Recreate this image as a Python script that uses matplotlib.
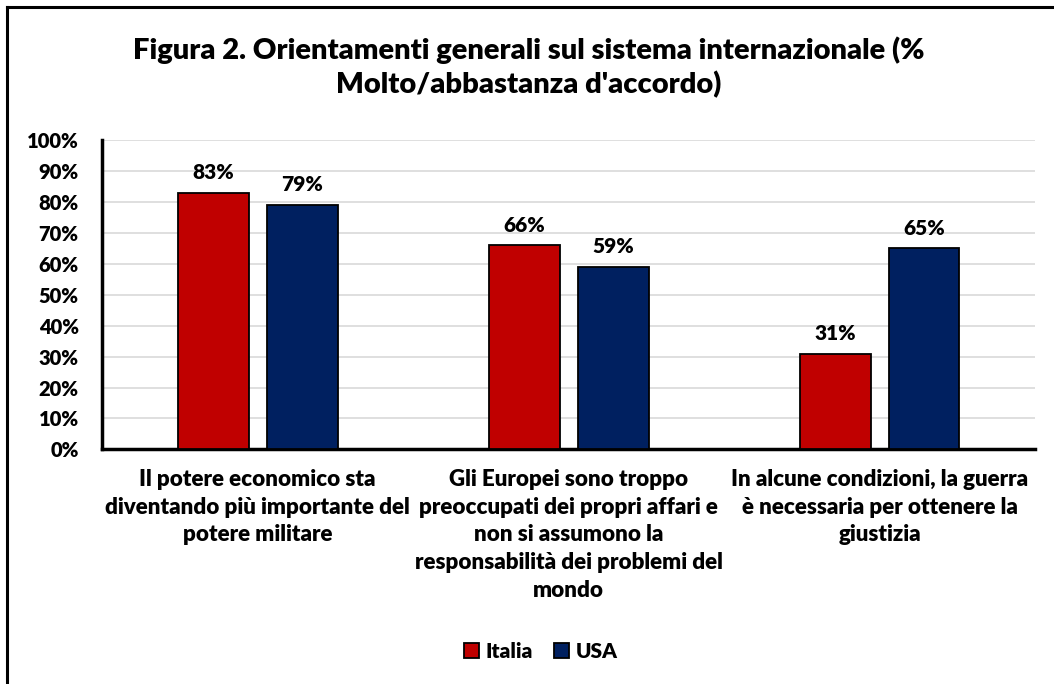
import matplotlib.pyplot as plt
import numpy as np

plt.rcParams['font.family'] = ['Lato', 'DejaVu Sans']
plt.rcParams['font.weight'] = 'heavy'

categories = [
    "Il potere economico sta\ndiventando più importante del\npotere militare",
    "Gli Europei sono troppo\npreoccupati dei propri affari e\nnon si assumono la\nresponsabilità dei problemi del\nmondo",
    "In alcune condizioni, la guerra\nè necessaria per ottenere la\ngiustizia",
]
italia = [83, 66, 31]
usa = [79, 59, 65]
series_names = ["Italia", "USA"]
colors = ["#C00000", "#002060"]

fig = plt.figure(figsize=(10.54, 6.84), dpi=100)
ax = fig.add_axes([0.097, 0.343, 0.885, 0.452])

x = np.arange(len(categories))
w = 0.228
off = 0.143
b1 = ax.bar(x - off, italia, w, color=colors[0], edgecolor='black', linewidth=1.3, zorder=3, label=series_names[0])
b2 = ax.bar(x + off, usa, w, color=colors[1], edgecolor='black', linewidth=1.3, zorder=3, label=series_names[1])

for bars, vals in ((b1, italia), (b2, usa)):
    for bar, v in zip(bars, vals):
        ax.text(bar.get_x() + bar.get_width() / 2, v + 3.5, f"{v}%",
                ha='center', va='bottom', fontsize=15, fontweight='heavy')

ax.set_xlim(-0.5, 2.5)
ax.set_ylim(0, 100)
ax.set_yticks(range(0, 101, 10))
ax.set_yticklabels([f"{v}%" for v in range(0, 101, 10)], fontsize=14.5, fontweight='heavy')
ax.set_xticks(x)
ax.set_xticklabels(categories, fontsize=16.1, fontweight='heavy', linespacing=1.4)
ax.tick_params(axis='both', length=0)
ax.tick_params(axis='y', pad=17)
ax.tick_params(axis='x', pad=14)
ax.yaxis.grid(True, color='#d9d9d9', linewidth=1.2, zorder=0)
for s in ('top', 'right'):
    ax.spines[s].set_visible(False)
ax.spines['left'].set_linewidth(2.5)
ax.spines['bottom'].set_linewidth(2.5)

fig.suptitle("Figura 2. Orientamenti generali sul sistema internazionale (%\nMolto/abbastanza d'accordo)",
             x=0.502, y=0.947, fontsize=21, fontweight='heavy', linespacing=1.3, va='top')

fig.legend(handles=[b1, b2], labels=series_names, loc='center', bbox_to_anchor=(0.513, 0.048),
           ncol=2, frameon=False, prop={'size': 15, 'weight': 'heavy'}, handlelength=0.75,
           handleheight=0.75, handletextpad=0.3, columnspacing=1.0)

# outer frame (left and top edges)
fig.add_artist(plt.Line2D([0.0068, 0.0068], [0, 0.99], color='black', linewidth=2.2, transform=fig.transFigure))
fig.add_artist(plt.Line2D([0.0068, 1.0], [0.99, 0.99], color='black', linewidth=2.2, transform=fig.transFigure))

fig.savefig('out.png', dpi=100)
